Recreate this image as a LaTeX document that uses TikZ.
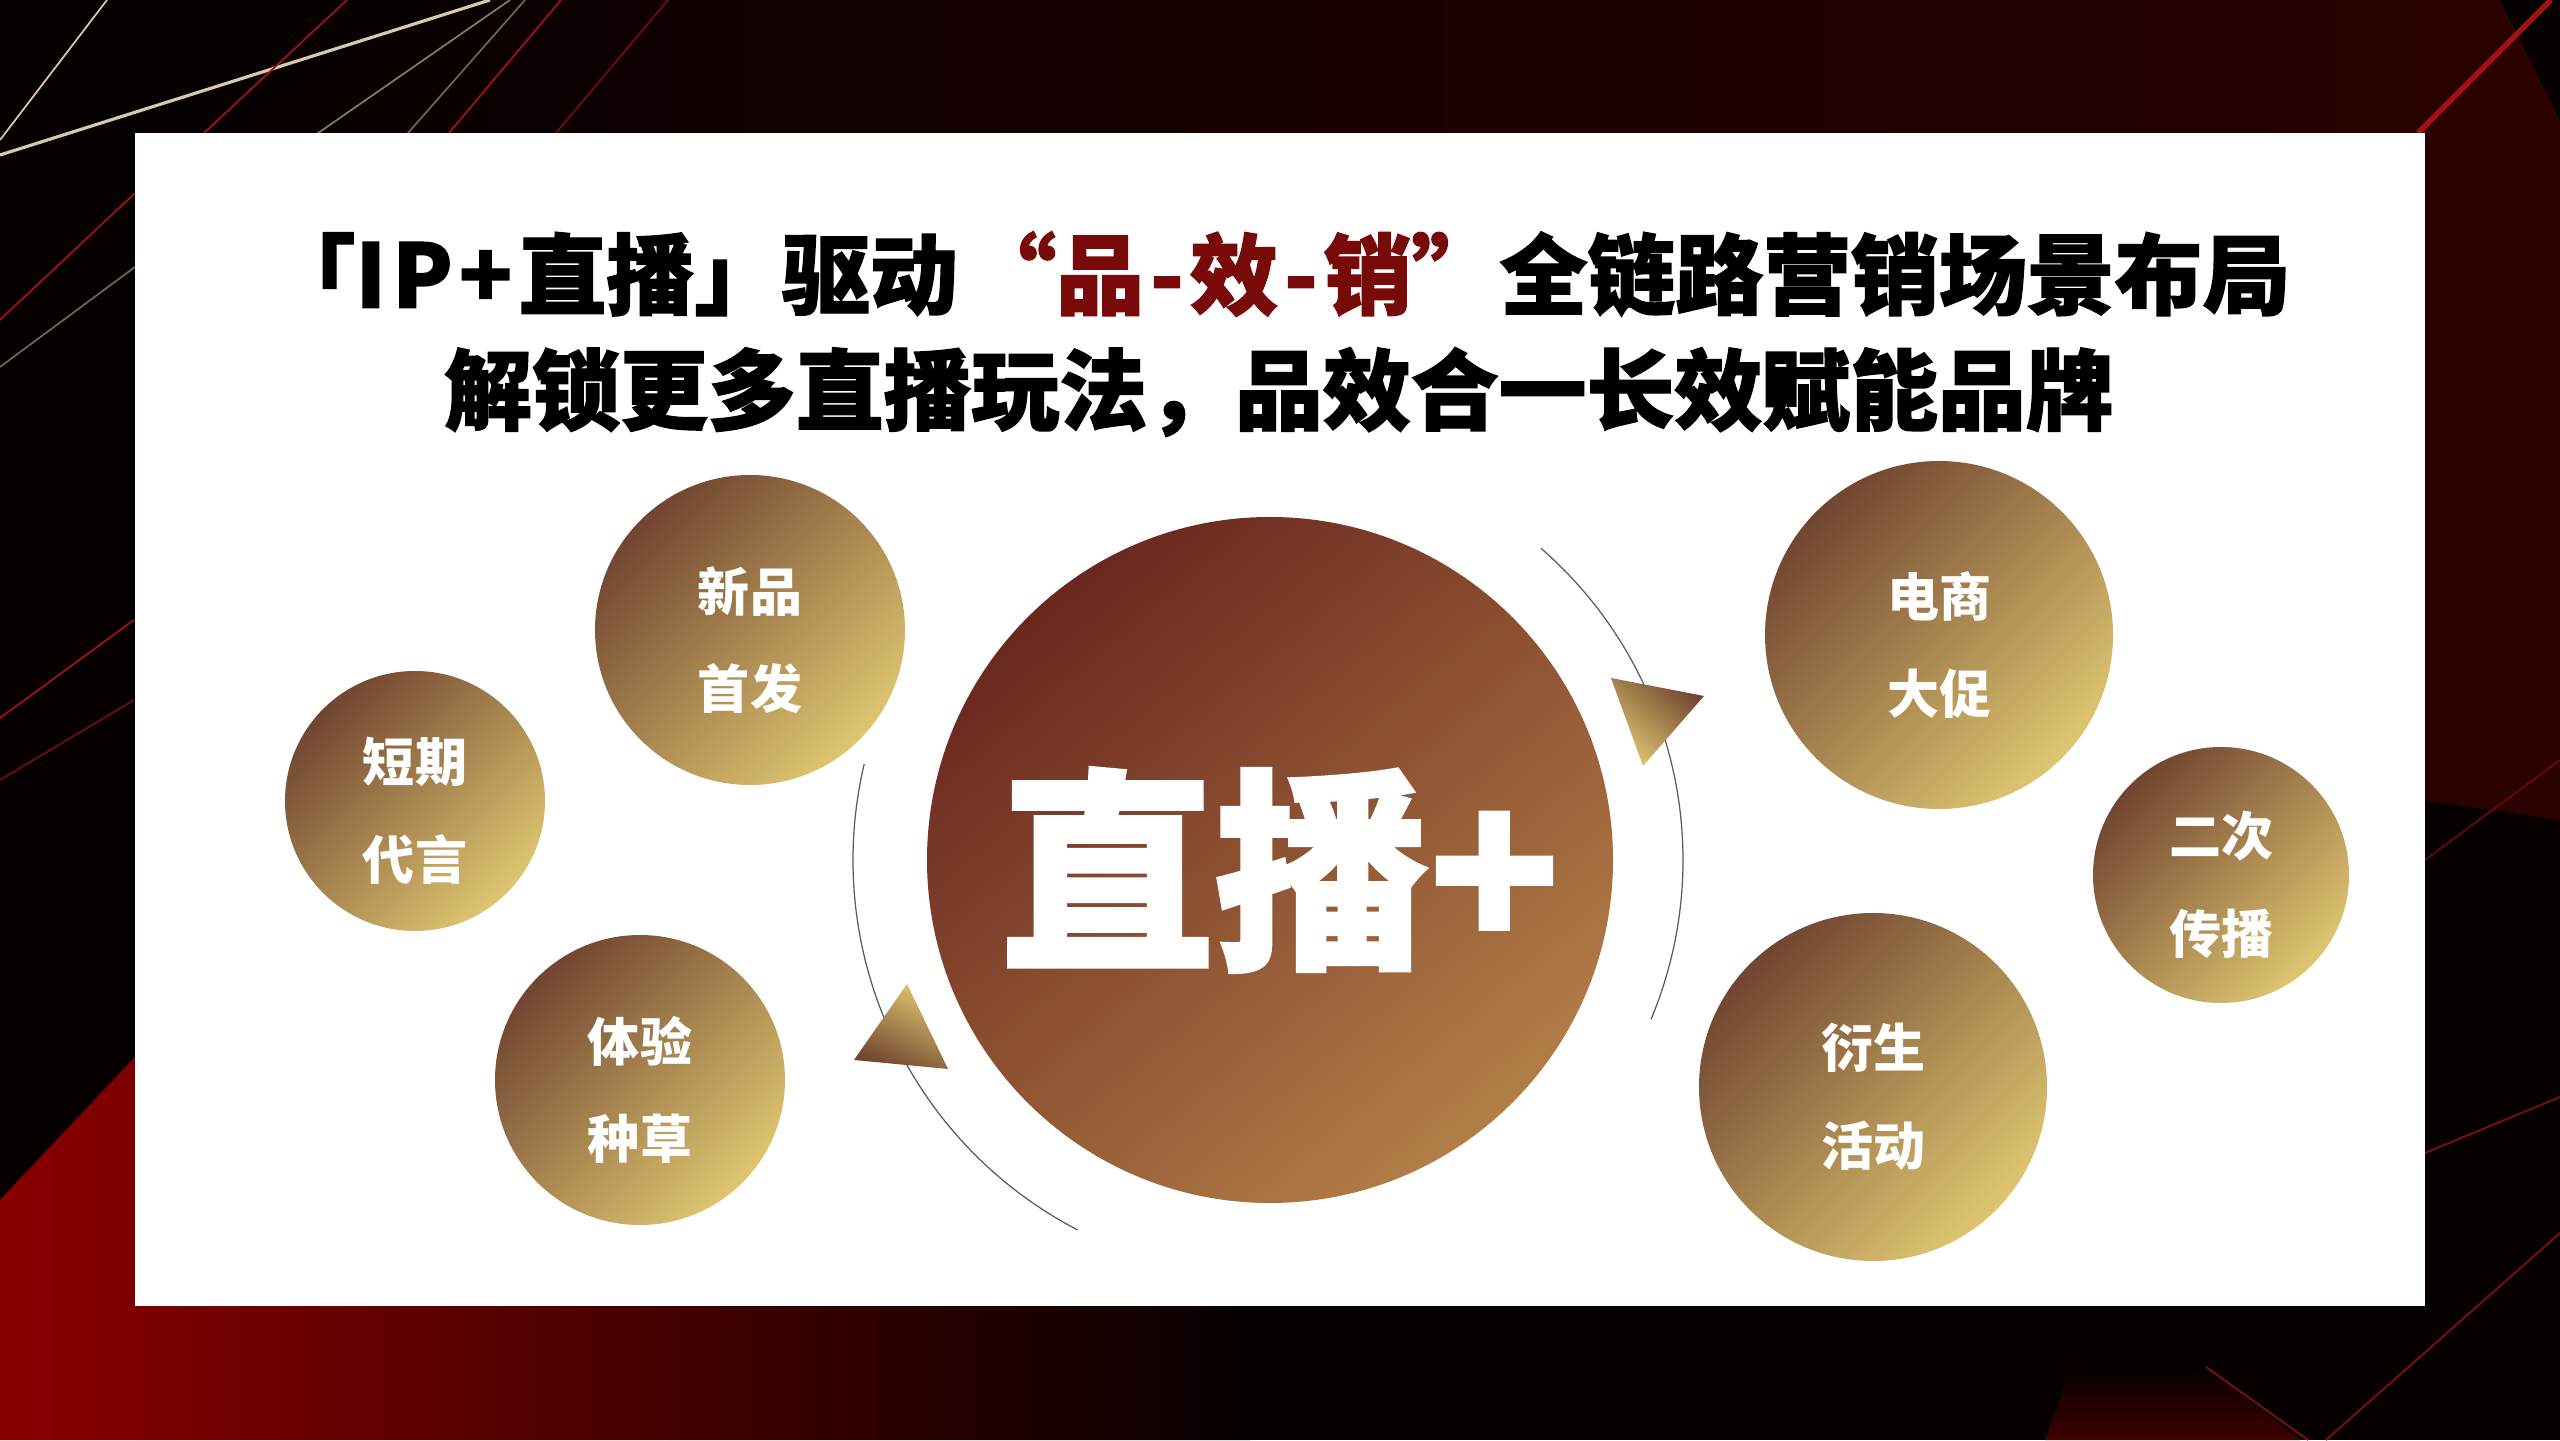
\documentclass[tikz,border=0pt]{standalone}
\usepackage{fontspec}
\setmainfont{Noto Sans CJK SC}
\newfontfamily\cjkheavy{Noto Sans CJK SC}[BoldFeatures={FakeBold=1.6}]
\usetikzlibrary{calc}
\definecolor{bgblack}{HTML}{060000}
\definecolor{bgmaroon}{HTML}{2C0202}
\definecolor{bgred}{HTML}{8A0000}
\definecolor{linebeige}{HTML}{D8C8AC}
\definecolor{linered}{HTML}{A51212}
\definecolor{bubbrown}{HTML}{714530}
\definecolor{bubgold}{HTML}{DEC670}
\definecolor{hubdark}{HTML}{6A271E}
\definecolor{hublight}{HTML}{B27E47}
\definecolor{titlered}{HTML}{780A0A}
\definecolor{orbitgray}{HTML}{5A5A5A}
\tikzstyle{bubble} = [circle, inner sep=0, top color=bubbrown, bottom color=bubgold, shading angle=45]
\tikzstyle{bubtext} = [inner sep=0, text=white, align=center, font=\bfseries\fontsize{14.8pt}{27.8pt}\selectfont]
\tikzstyle{hubnode} = [circle, inner sep=0, minimum size=6.86cm, top color=hubdark, bottom color=hublight, shading angle=40]
\tikzstyle{hubtext} = [inner sep=0, text=white, font=\cjkheavy\bfseries\fontsize{61pt}{61pt}\selectfont]
\tikzstyle{titleline} = [inner sep=0, font=\cjkheavy\bfseries\fontsize{25pt}{30pt}\selectfont]
\tikzstyle{orbit} = [draw=orbitgray, line width=0.35pt]
\tikzstyle{bgline} = [line width=0.5pt]
\newcommand{\tk}{\kern0.07em}

\begin{document}
\begin{tikzpicture}
    \useasboundingbox (0,0) rectangle (25.6,14.4);
    % background
    \begin{scope}
    \clip (0,0) rectangle (25.6,14.4);
    \fill[bgblack] (0,0) rectangle (25.6,14.4);
    \shade[left color=bgblack, right color=bgmaroon] (4.5,14.4) -- (25.6,14.4) -- (25.6,6.2) -- (20,7) -- (1.35,12.5) -- cycle;
    \shade[left color=bgred, right color=bgblack] (0,0) -- (0,2.4) -- (1.35,3.83) -- (1.35,1.34) -- (12.5,1.34) -- (12.5,0) -- cycle;
    \shade[top color=bgblack, bottom color=bgmaroon!80!bgred] (20.71,0.73) -- (22.06,0.73) -- (23.0,0) -- (20.45,0) -- cycle;
    \fill[bgblack] (25.0,14.4) -- (25.6,14.4) -- (25.6,13.2) -- cycle;
    \draw[bgline, linebeige, line width=0.9pt] (0,12.85) -- (4.90,14.4);
    \draw[bgline, linebeige] (1.07,14.4) -- (0,13.0);
    \draw[bgline, linebeige!60!bgblack] (5.10,14.4) -- (1.35,11.8);
    \draw[bgline, linebeige!50!bgblack] (5.25,14.4) -- (4.08,13.07);
    \draw[bgline, linebeige!50!bgblack] (0,10.73) -- (1.35,11.73);
    \draw[bgline, linered] (3.47,14.4) -- (2.04,13.07);
    \draw[bgline, linered] (5.61,14.4) -- (4.49,13.07);
    \draw[bgline, linered!70!bgblack] (6.68,14.4) -- (5.56,13.07);
    \draw[bgline, linered] (0,11.2) -- (1.35,12.47);
    \draw[bgline, linered] (0,7.22) -- (1.34,8.2);
    \draw[bgline, linered!70!bgblack] (0,6.6) -- (1.34,7.4);
    \draw[bgline, linered, line width=1.6pt] (25.51,14.4) -- (24.18,13.07);
    \draw[bgline, linered!60!bgblack] (24.25,5.8) -- (25.6,6.8);
    \draw[bgline, linered!80!bgblack] (25.6,3.43) -- (24.25,2.87);
    \draw[bgline, linered!80!bgblack] (25.6,2.07) -- (23.26,0);
    \draw[bgline, linered!80!bgblack] (22.06,0.73) -- (23.08,0);
    \end{scope}
    % white panel
    \fill[white] (1.35,1.34) rectangle (24.25,13.07);

    \node[titleline] (title_a) at (12.79,11.66) {「I\tk P\tk +\tk 直播」驱动\hspace{0.12em}\textcolor{titlered}{“品\tk -\tk 效\tk -\tk 销”}全链路营销场景布局};
    \node[titleline] (title_b) at (12.79,10.48) {解锁更多直播玩法，品效合一长效赋能品牌};

    \node[hubnode] (hub) at (12.70,5.80) {};
    \node[hubtext] (hub_label) at ($(hub)+(0.10,-0.10)$) {直播+};

    \node[bubble, minimum size=3.10cm] (bub_xinpin) at (7.50,8.10) {};
    \node[bubble, minimum size=2.60cm] (bub_daiyan) at (4.15,6.39) {};
    \node[bubble, minimum size=2.90cm] (bub_tiyan) at (6.40,3.60) {};
    \node[bubble, minimum size=3.48cm] (bub_dianshang) at (19.39,8.05) {};
    \node[bubble, minimum size=2.56cm] (bub_erci) at (22.21,5.65) {};
    \node[bubble, minimum size=3.48cm] (bub_yansheng) at (18.73,3.53) {};

    \node[bubtext] (txt_xinpin) at ($(bub_xinpin)+(0,-0.10)$) {新品\\首发};
    \node[bubtext] (txt_daiyan) at ($(bub_daiyan)+(0,-0.10)$) {短期\\代言};
    \node[bubtext] (txt_tiyan) at ($(bub_tiyan)+(0,-0.10)$) {体验\\种草};
    \node[bubtext] (txt_dianshang) at ($(bub_dianshang)+(0,-0.10)$) {电商\\大促};
    \node[bubtext] (txt_erci) at ($(bub_erci)+(0,-0.10)$) {二次\\传播};
    \node[bubtext] (txt_yansheng) at ($(bub_yansheng)+(0,-0.10)$) {衍生\\活动};

    % orbit arcs
    \draw[orbit] ($(hub.center)+(49:4.13)$) arc[start angle=49, end angle=-22.7, radius=4.13];
    \draw[orbit] ($(hub.center)+(166.7:4.17)$) arc[start angle=166.7, end angle=242.5, radius=4.17];

    % arrow heads
    \shade[top color=bubbrown, bottom color=bubgold, shading angle=-40] (16.11,7.62) -- (17.04,7.44) -- (16.43,6.74) -- cycle;
    \shade[top color=bubgold, bottom color=bubbrown, shading angle=-25] (9.07,4.56) -- (8.54,3.80) -- (9.48,3.71) -- cycle;
\end{tikzpicture}
\end{document}
